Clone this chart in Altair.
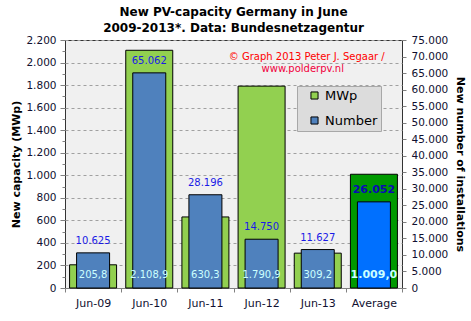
import altair as alt
import pandas as pd

# ---------------- data ----------------
categories = ["Jun-09", "Jun-10", "Jun-11", "Jun-12", "Jun-13", "Average"]
mwp = [205.8, 2108.9, 630.3, 1790.9, 309.2, 1009.0]
installs = [10625, 65062, 28196, 14750, 11627, 26052]

left_ticks = list(range(0, 2201, 100))
right_ticks = list(range(0, 75001, 5000))

credit_text = ["© Graph 2013 Peter J. Segaar  /", "www.polderpv.nl"]
credit_cat = ["Jun-13", "Jun-13"]
credit_val = [2052, 1940]
credit_line = [0, 1]


def de_int(v):
    return f"{v:,}".replace(",", ".")


def de_dec(v):
    return f"{v:,.1f}".replace(",", "X").replace(".", ",").replace("X", ".")


df = pd.DataFrame({
    "cat": categories,
    "mwp": mwp,
    "num": installs,
    "mwp_lbl": [de_dec(v) for v in mwp],
    "num_lbl": [de_int(v) for v in installs],
})
credit_df = pd.DataFrame({"cat": credit_cat, "val": credit_val,
                          "txt": credit_text, "line": credit_line})

FONT = "DejaVu Sans"
GREEN = "#92D050"
GREEN_AVG = "#009900"
BLUE = "#4F81BD"
BLUE_AVG = "#0070FF"
LBL = "#101030"

is_avg = "datum.cat === 'Average'"

X = alt.X("cat:N", sort=categories, title=None,
          scale=alt.Scale(domain=categories, paddingInner=0, paddingOuter=0),
          axis=alt.Axis(labelAngle=0, tickBand="extent", labelFont=FONT,
                        labelFontSize=11, labelColor=LBL, tickColor="#808080",
                        tickSize=4, domainColor="#808080", labelPadding=5))


def ys_left():
    return alt.Scale(domain=[0, 2200], nice=False, zero=True)


def ys_right():
    return alt.Scale(domain=[0, 75000], nice=False, zero=True)


color_scale = alt.Scale(domain=["MWp", "Number"], range=[GREEN, BLUE])

major = "datum.value % 200 === 0"
left_axis = alt.Axis(
    orient="left", values=left_ticks, title="New capacity (MWp)", titleFont=FONT,
    titleFontSize=11, titleFontWeight="bold", titleColor="#000", titlePadding=4,
    labelExpr="datum.value % 200 === 0 ? replace(format(datum.value, ','), ',', '.') : ''",
    labelFont=FONT, labelFontSize=10.5, labelColor=LBL, labelPadding=4,
    labelOverlap=False, labelFlush=False, tickColor="#808080",
    tickSize={"condition": {"test": major, "value": 5}, "value": 3},
    grid=True, gridColor="#A0A0A0", gridDash=[3, 3],
    gridOpacity={"condition": {"test": major, "value": 1}, "value": 0},
    domain=False)

right_axis = alt.Axis(
    orient="right", values=right_ticks, title="New number of installations",
    titleFont=FONT, titleFontSize=11, titleFontWeight="bold", titleColor="#000",
    titlePadding=7,
    labelExpr="replace(format(datum.value, ','), ',', '.')",
    labelFont=FONT, labelFontSize=10.5, labelColor=LBL, labelPadding=5,
    labelOverlap=False, labelFlush=False, tickColor="#808080", tickSize=4,
    grid=False, domain=False)

legend = alt.Legend(
    title=None, orient="none", legendX=232, legendY=46, direction="vertical",
    fillColor="#DCDCDC", strokeColor="#A8A8A8", padding=3, rowPadding=11,
    symbolType="square", symbolSize=50, symbolStrokeColor="#000",
    symbolStrokeWidth=1, symbolOffset=8, labelFont=FONT, labelFontSize=13,
    labelColor="#000", labelOffset=4, labelExpr="datum.label + '     '")

base = alt.Chart(df)

green_bars = base.transform_calculate(series="'MWp'").mark_bar(
    size=47, stroke="#000", strokeWidth=1).encode(
    x=X,
    y=alt.Y("mwp:Q", scale=ys_left(), axis=left_axis),
    color=alt.condition(is_avg, alt.value(GREEN_AVG),
                        alt.Color("series:N", scale=color_scale, legend=legend)),
)

blue_bars = base.transform_calculate(series="'Number'").mark_bar(
    size=33, stroke="#000", strokeWidth=1).encode(
    x=X,
    y=alt.Y("num:Q", scale=ys_right(), axis=right_axis),
    color=alt.condition(is_avg, alt.value(BLUE_AVG),
                        alt.Color("series:N", scale=color_scale, legend=legend)),
)

mwp_text = base.transform_filter(f"!({is_avg})").mark_text(
    font=FONT, fontSize=10, color="#CCFFFF", baseline="middle", dy=-13).encode(
    x=X, y=alt.YDatum(0, scale=ys_left(), axis=None), text="mwp_lbl:N")

mwp_text_avg = base.transform_filter(is_avg).mark_text(
    font=FONT, fontSize=11, fontWeight="bold", color="#CCFFFF",
    baseline="middle", dy=-13).encode(
    x=X, y=alt.YDatum(0, scale=ys_left(), axis=None), text="mwp_lbl:N")

num_text = base.transform_filter(f"!({is_avg})").mark_text(
    font=FONT, fontSize=10, color="#1A1AE6", baseline="middle", dy=-12).encode(
    x=X, y=alt.Y("num:Q", scale=ys_right(), axis=None), text="num_lbl:N")

num_text_avg = base.transform_filter(is_avg).mark_text(
    font=FONT, fontSize=11, fontWeight="bold", color="#0A0AB4",
    baseline="middle", dy=-12).encode(
    x=X, y=alt.Y("num:Q", scale=ys_right(), axis=None), text="num_lbl:N")

credit1 = alt.Chart(credit_df).transform_filter("datum.line === 0").mark_text(
    font=FONT, fontSize=10, color="#FF0000", baseline="middle", dx=-11).encode(
    x=X, y=alt.Y("val:Q", scale=ys_left(), axis=None), text="txt:N")

credit2 = alt.Chart(credit_df).transform_filter("datum.line === 1").mark_text(
    font=FONT, fontSize=10, color="#F0003C", baseline="middle", dx=-15).encode(
    x=X, y=alt.Y("val:Q", scale=ys_left(), axis=None), text="txt:N")

chart = alt.layer(
    green_bars, blue_bars, mwp_text, mwp_text_avg, num_text, num_text_avg,
    credit1, credit2
).resolve_scale(y="independent").properties(
    width=337, height=248,
    title=alt.Title(["New PV-capacity Germany in June",
                     "2009-2013*. Data: Bundesnetzagentur"],
                    font=FONT, fontSize=12, fontWeight="bold", color="#000",
                    anchor="middle", lineHeight=16, offset=0),
    padding={"left": 65, "top": 40, "right": 69, "bottom": 33},
    autosize=alt.AutoSizeParams(type="none"),
    background="white",
).configure_view(fill="#F0F0F0", stroke="#333333", strokeWidth=1)

chart.save("out.html", embed_options={"renderer": "svg", "actions": False})
